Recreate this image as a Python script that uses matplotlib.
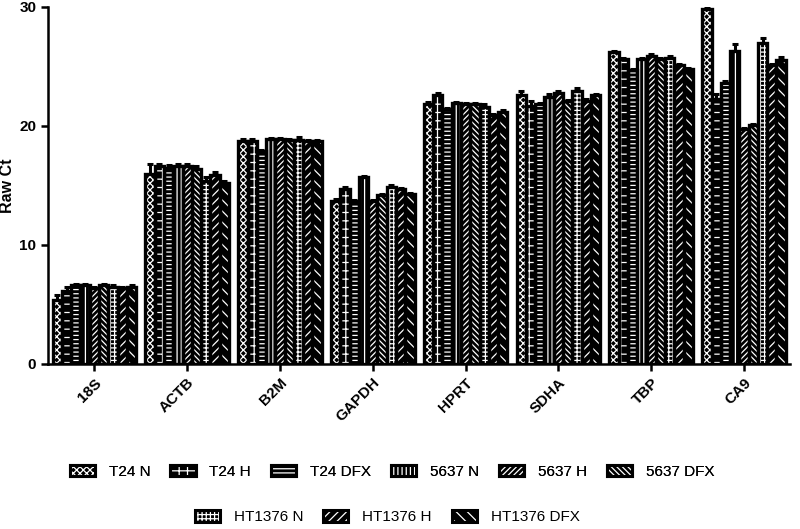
import matplotlib
matplotlib.use("Agg")
import matplotlib.pyplot as plt
import numpy as np
from matplotlib.patches import Patch
from matplotlib.legend_handler import HandlerTuple

plt.rcParams['font.family'] = ['Liberation Sans', 'DejaVu Sans']
plt.rcParams['hatch.linewidth'] = 0.9

genes = ['18S', 'ACTB', 'B2M', 'GAPDH', 'HPRT', 'SDHA', 'TBP', 'CA9']
samples = ['T24 N', 'T24 H', 'T24 DFX', '5637 N', '5637 H', '5637 DFX',
           'HT1376 N', 'HT1376 H', 'HT1376 DFX']

# rows = samples, columns = genes
raw_ct = [
    [5.4, 16.0, 18.7, 13.7, 21.8, 22.6, 26.2, 29.8],
    [6.1, 16.6, 18.7, 14.7, 22.6, 21.7, 25.6, 22.3],
    [6.6, 16.5, 17.9, 13.7, 21.4, 21.8, 24.7, 23.6],
    [6.6, 16.6, 18.9, 15.7, 21.9, 22.4, 25.6, 26.3],
    [6.4, 16.6, 18.9, 13.7, 21.8, 22.8, 25.9, 19.7],
    [6.6, 16.4, 18.8, 14.2, 21.8, 22.1, 25.6, 20.1],
    [6.5, 15.4, 18.8, 14.9, 21.6, 22.9, 25.7, 27.0],
    [6.4, 15.9, 18.7, 14.7, 20.9, 22.1, 25.1, 25.1],
    [6.5, 15.2, 18.7, 14.3, 21.2, 22.6, 24.8, 25.5],
]
sem = [
    [0.4, 0.8, 0.2, 0.2, 0.2, 0.3, 0.1, 0.1],
    [0.4, 0.2, 0.2, 0.2, 0.2, 0.4, 0.1, 0.4],
    [0.1, 0.2, 0.1, 0.1, 0.1, 0.1, 0.1, 0.2],
    [0.1, 0.2, 0.1, 0.1, 0.1, 0.3, 0.1, 0.6],
    [0.1, 0.2, 0.1, 0.1, 0.1, 0.1, 0.1, 0.1],
    [0.1, 0.2, 0.1, 0.1, 0.1, 0.1, 0.1, 0.1],
    [0.1, 0.3, 0.3, 0.1, 0.2, 0.3, 0.2, 0.4],
    [0.1, 0.2, 0.1, 0.1, 0.1, 0.2, 0.1, 0.1],
    [0.1, 0.2, 0.1, 0.1, 0.1, 0.1, 0.1, 0.3],
]
hatches = ['xxxxx', '++', '----', '||||', '//////', '\\\\\\\\\\\\', '++++', '////', '\\\\\\']

fig = plt.figure(figsize=(8, 5.29), dpi=100)
ax = fig.add_axes([0.06, 0.312, 0.928, 0.675])

x = np.arange(len(genes))
width = 0.1
for i, name in enumerate(samples):
    pos = x + (i - 4) * width
    vals = np.array(raw_ct[i])
    err = np.array(sem[i])
    ax.errorbar(pos, vals, yerr=[np.zeros_like(err), err], fmt='none',
                ecolor='black', elinewidth=2.2, capsize=2.5, capthick=2.2, zorder=1)
    ax.bar(pos, vals, width, color='black', edgecolor='white', hatch=hatches[i],
           linewidth=0, zorder=2)
    ax.bar(pos, vals, width, color='none', edgecolor='black', linewidth=2.4,
           zorder=3)

ax.set_xlim(-0.5, 7.5)
ax.set_ylim(0, 30)
ax.set_yticks([0, 10, 20, 30])
ax.set_xticks(x)
ax.set_xticklabels(genes, rotation=45, ha='right', rotation_mode='anchor',
                   fontsize=11, fontweight='bold')
for lab in ax.get_yticklabels():
    lab.set_fontweight('bold')
    lab.set_fontsize(11)
ax.set_ylabel('Raw Ct', fontsize=11.5, fontweight='bold')
ax.yaxis.set_label_coords(-0.044, 0.5)
ax.spines['top'].set_visible(False)
ax.spines['right'].set_visible(False)
ax.spines['left'].set_linewidth(1.8)
ax.spines['bottom'].set_linewidth(1.8)
ax.tick_params(width=1.8, length=5)

handles = [(Patch(facecolor='black', edgecolor='white', hatch=h, linewidth=0),
            Patch(facecolor='none', edgecolor='black', linewidth=2.2))
           for h in hatches]
common = dict(frameon=False, fontsize=11, handlelength=1.65, handleheight=0.75,
              handletextpad=0.9, columnspacing=1.3,
              handler_map={tuple: HandlerTuple(ndivide=1)})
leg1 = fig.legend(handles[:6], samples[:6], loc='center', ncol=6,
                  bbox_to_anchor=(0.49, 0.108), **common)
fig.add_artist(leg1)
fig.legend(handles[6:], samples[6:], loc='center', ncol=3,
           bbox_to_anchor=(0.484, 0.022), **common)

fig.savefig('out.png', dpi=100)
